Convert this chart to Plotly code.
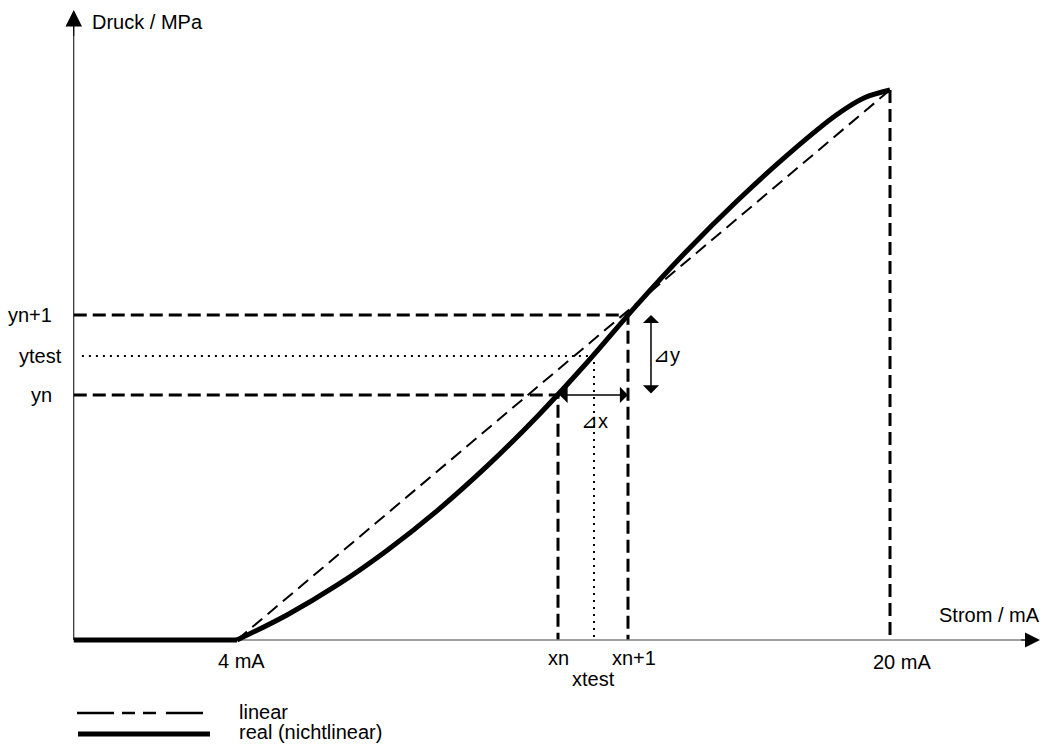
import plotly.graph_objects as go

# ---------------- data ----------------
# real (nonlinear) characteristic: current in mA, pressure (relative units)
flat_x = [0, 4]
flat_y = [0, 0]
curve_x = [4, 5.225, 6.450, 7.675, 8.900, 10.125, 11.351, 12.576, 13.801, 15.026, 16.251, 17.476, 18.701, 19.387, 20]
curve_y = [0, 0.455, 0.996, 1.629, 2.349, 3.160, 4.060, 5.045, 6.093, 7.078, 7.982, 8.811, 9.553, 9.862, 10]

# linear characteristic
linear_x = [4, 20]
linear_y = [0, 10]

# interpolation points
x_n, x_n1, x_test = 11.865, 13.580, 12.747
y_n, y_n1, y_test = 4.455, 5.909, 5.164
x_end, y_end = 20, 10

# axis extents
x_tip, y_tip = 23.675, 11.455

x_tick_labels = ["4 mA", "xn", "xn+1", "xtest", "20 mA"]
y_tick_labels = ["yn+1", "ytest", "yn"]
legend_labels = ["linear", "real (nichtlinear)"]
axis_titles = ["Druck / MPa", "Strom / mA"]

FONT = "Liberation Sans, Arial, sans-serif"
BLACK = "#000000"
W, H = 1042, 744

fig = go.Figure()

# dashed guide lines
guide_x = [0, x_n, x_n, None, 0, x_n1, x_n1, None, x_end, x_end]
guide_y = [y_n, y_n, 0, None, y_n1, y_n1, 0, None, y_end, 0]
fig.add_trace(go.Scatter(x=guide_x, y=guide_y, mode="lines",
                         line=dict(color=BLACK, width=3, dash="13px,6px"),
                         hoverinfo="skip", showlegend=False))
# dotted test lines
fig.add_trace(go.Scatter(x=[0.2, x_test, x_test], y=[y_test, y_test, 0], mode="lines",
                         line=dict(color=BLACK, width=2, dash="2px,5px"),
                         hoverinfo="skip", showlegend=False))
# x axis (gray) and y axis (black)
fig.add_trace(go.Scatter(x=[0, x_tip - 0.2], y=[0, 0], mode="lines",
                         line=dict(color="#808080", width=1.5),
                         hoverinfo="skip", showlegend=False))
fig.add_trace(go.Scatter(x=[0, 0], y=[0, y_tip - 0.2], mode="lines",
                         line=dict(color=BLACK, width=1),
                         hoverinfo="skip", showlegend=False))
# linear
fig.add_trace(go.Scatter(x=linear_x, y=linear_y, mode="lines",
                         line=dict(color=BLACK, width=2, dash="13px,7px"),
                         hoverinfo="skip", showlegend=False))
# real curve
fig.add_trace(go.Scatter(x=flat_x, y=flat_y, mode="lines",
                         line=dict(color=BLACK, width=5),
                         hoverinfo="skip", showlegend=False))
fig.add_trace(go.Scatter(x=curve_x, y=curve_y, mode="lines",
                         line=dict(color=BLACK, width=5, shape="spline", smoothing=1),
                         hoverinfo="skip", showlegend=False))

ann = []
# axis arrowheads
ann.append(dict(x=0, y=y_tip, ax=0, ay=y_tip - 0.5, xref="x", yref="y", axref="x", ayref="y",
                showarrow=True, arrowhead=2, arrowsize=3.3, arrowwidth=1, arrowcolor=BLACK, text=""))
ann.append(dict(x=x_tip, y=0, ax=x_tip - 0.5, ay=0, xref="x", yref="y", axref="x", ayref="y",
                showarrow=True, arrowhead=2, arrowsize=3.0, arrowwidth=1, arrowcolor=BLACK, text=""))
# delta arrows
ann.append(dict(x=x_n1, y=y_n, ax=x_n, ay=y_n, xref="x", yref="y", axref="x", ayref="y",
                showarrow=True, arrowhead=1, startarrowhead=1, arrowside="end+start",
                arrowsize=1.8, startarrowsize=1.8, arrowwidth=1.5, arrowcolor=BLACK, text=""))
ann.append(dict(x=x_n1, y=y_n1, ax=x_n1, ay=y_n, xref="x", yref="y", axref="x", ayref="y",
                xshift=23, showarrow=True, arrowhead=1, startarrowhead=1, arrowside="end+start",
                arrowsize=1.8, startarrowsize=1.8, arrowwidth=1.5, arrowcolor=BLACK, text=""))
ann.append(dict(x=x_test, y=y_n, text="\u22bfx", showarrow=False, xshift=1, yshift=-26,
                font=dict(size=20)))
ann.append(dict(x=x_n1, y=(y_n + y_n1) / 2, text="\u22bfy", showarrow=False, xshift=39, yshift=0,
                font=dict(size=20)))

# tick labels
ann.append(dict(x=4, y=0, text=x_tick_labels[0], showarrow=False, xshift=4, yshift=-21))
ann.append(dict(x=x_n, y=0, text=x_tick_labels[1], showarrow=False, xshift=0, yshift=-18))
ann.append(dict(x=x_n1, y=0, text=x_tick_labels[2], showarrow=False, xshift=6, yshift=-18))
ann.append(dict(x=x_test, y=0, text=x_tick_labels[3], showarrow=False, xshift=0, yshift=-39))
ann.append(dict(x=x_end, y=0, text=x_tick_labels[4], showarrow=False, xshift=12, yshift=-22))
ann.append(dict(x=0, y=y_n1, text=y_tick_labels[0], showarrow=False, xanchor="right", xshift=-20))
ann.append(dict(x=0, y=y_test, text=y_tick_labels[1], showarrow=False, xanchor="right", xshift=-10))
ann.append(dict(x=0, y=y_n, text=y_tick_labels[2], showarrow=False, xanchor="right", xshift=-20))
# axis titles
ann.append(dict(x=0, y=y_tip, text=axis_titles[0], showarrow=False, xanchor="left", yanchor="middle",
                xshift=16, yshift=-12))
ann.append(dict(x=1.0, xref="paper", y=0, text=axis_titles[1], showarrow=False, xanchor="right",
                yanchor="middle", yshift=25))
# legend
ann.append(dict(x=237 / W, y=1 - 712 / H, xref="paper", yref="paper", text=legend_labels[0],
                showarrow=False, xanchor="left", yanchor="middle"))
ann.append(dict(x=237 / W, y=1 - 732 / H, xref="paper", yref="paper", text=legend_labels[1],
                showarrow=False, xanchor="left", yanchor="middle"))

shapes = [
    dict(type="line", xref="paper", yref="paper", x0=77 / W, x1=203 / W,
         y0=1 - 713 / H, y1=1 - 713 / H,
         line=dict(color=BLACK, width=2.5, dash="37px,8px,13px,8px,13px,10px,37px,100px")),
    dict(type="line", xref="paper", yref="paper", x0=78 / W, x1=210 / W,
         y0=1 - 734 / H, y1=1 - 734 / H,
         line=dict(color=BLACK, width=5)),
]

fig.update_layout(
    width=W, height=H, autosize=False,
    margin=dict(l=0, r=0, t=0, b=0),
    paper_bgcolor="white", plot_bgcolor="white",
    font=dict(family=FONT, size=20, color=BLACK),
    xaxis=dict(range=[-1.807, 23.724], visible=False, fixedrange=True),
    yaxis=dict(range=[-1.891, 11.636], visible=False, fixedrange=True),
    annotations=ann, shapes=shapes, showlegend=False,
)

fig.write_html("out.html", config={"displayModeBar": False},
               post_script="document.body.style.margin='0px';document.body.style.overflow='hidden';")
